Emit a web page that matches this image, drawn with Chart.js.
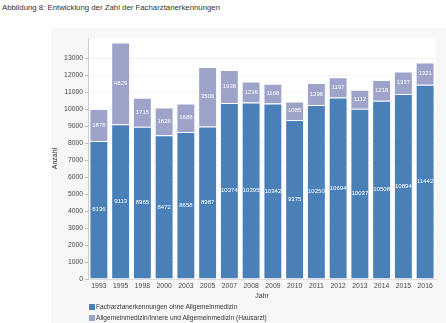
<!DOCTYPE html>
<html lang="de">
<head>
  <meta charset="UTF-8" />
  <title>Facharztanerkennungen</title>
  <script src="https://cdn.jsdelivr.net/npm/chart.js"></script>
  <style>
    body {
      margin: 0;
      width: 446px;
      height: 323px;
      background: #fff;
      font-family: "Liberation Sans", Arial, sans-serif;
      position: relative;
      overflow: hidden;
    }
    #title {
      position: absolute;
      left: 2px;
      top: 3px;
      font-size: 7.8px;
      color: #333;
    }
    #panel {
      position: absolute;
      left: 51px;
      top: 28px;
      width: 395px;
      height: 295px;
      background: #f7f7f7;
    }
    #legend {
      position: absolute;
      left: 38px;
      top: 273px;
      font-size: 6.6px;
      color: #333;
    }
    #legend div {
      height: 11px;
      line-height: 11px;
    }
    #legend span {
      display: inline-block;
      width: 6px;
      height: 6px;
      margin-right: 1px;
      vertical-align: -1px;
    }
  </style>
</head>
<body>
  <div id="title">Abbildung 8: Entwicklung der Zahl der Facharztanerkennungen</div>
  <div id="panel">
    <canvas id="chart" width="395" height="295"></canvas>
    <div id="legend"></div>
  </div>

  <script>
    const years = ["1993", "1995", "1998", "2000", "2003", "2005", "2007", "2008",
                   "2009", "2010", "2011", "2012", "2013", "2014", "2015", "2016"];
    const ohneAllgemein = [8136, 9113, 8965, 8472, 8658, 8987, 10374, 10395,
                           10342, 9375, 10250, 10694, 10037, 10508, 10894, 11442];
    const hausarzt = [1878, 4829, 1715, 1626, 1686, 3506, 1938, 1236,
                      1168, 1085, 1298, 1197, 1112, 1218, 1337, 1321];
    const yTicks = [0, 1000, 2000, 3000, 4000, 5000, 6000, 7000,
                    8000, 9000, 10000, 11000, 12000, 13000];
    const seriesNames = ["Facharztanerkennungen ohne Allgemeinmedizin",
                         "Allgemeinmedizin/Innere und Allgemeinmedizin (Hausarzt)"];
    const colors = ["#4a80b8", "#9ea4c9"];

    // white plot area on the grey panel
    const plotBg = {
      id: 'plotBg',
      beforeDraw(chart) {
        const a = chart.chartArea;
        const c = chart.ctx;
        c.save();
        c.fillStyle = '#fff';
        c.fillRect(a.left, a.top, a.right - a.left, a.bottom - a.top);
        c.restore();
      }
    };

    // value labels in the middle of each segment
    const barLabels = {
      id: 'barLabels',
      afterDatasetsDraw(chart) {
        const c = chart.ctx;
        c.save();
        c.fillStyle = '#fff';
        c.font = '6px "Liberation Sans", Arial, sans-serif';
        c.textAlign = 'center';
        c.textBaseline = 'middle';
        chart.data.datasets.forEach((ds, i) => {
          chart.getDatasetMeta(i).data.forEach((bar, j) => {
            const p = bar.getProps(['x', 'y', 'base'], true);
            c.fillText(ds.data[j], p.x, (p.y + p.base) / 2);
          });
        });
        c.restore();
      }
    };

    new Chart(document.getElementById('chart'), {
      type: 'bar',
      data: {
        labels: years,
        datasets: [
          { label: seriesNames[0], data: ohneAllgemein, backgroundColor: colors[0],
            borderColor: 'rgba(255,255,255,0.5)', borderWidth: 1 },
          { label: seriesNames[1], data: hausarzt, backgroundColor: colors[1],
            borderColor: 'rgba(255,255,255,0.5)', borderWidth: 1 }
        ]
      },
      options: {
        responsive: false,
        animation: false,
        layout: { padding: { left: 0, top: 10, right: 10, bottom: 22 } },
        datasets: { bar: { barPercentage: 0.87, categoryPercentage: 1 } },
        plugins: {
          legend: { display: false },
          tooltip: { enabled: false }
        },
        scales: {
          x: {
            stacked: true,
            grid: { display: false, drawTicks: false, tickLength: 0 },
            border: { color: '#ddd' },
            ticks: { color: '#444', font: { size: 6.8 }, padding: 3, maxRotation: 0 },
            title: { display: true, text: 'Jahr', color: '#333', font: { size: 7 }, padding: 1 },
            afterFit: s => { s.height = 22; }
          },
          y: {
            stacked: true,
            min: 0,
            max: 14200,
            afterBuildTicks: s => { s.ticks = yTicks.map(v => ({ value: v })); },
            grid: { color: '#e8e8e8', tickLength: 3, tickColor: '#bbb' },
            border: { color: '#ccc', dash: [2, 2] },
            ticks: { color: '#444', font: { size: 6.8 }, padding: 2, callback: v => String(v) },
            title: { display: true, text: 'Anzahl', color: '#333', font: { size: 7 }, padding: 0 },
            afterFit: s => { s.width = 37; }
          }
        }
      },
      plugins: [plotBg, barLabels]
    });

    const legend = document.getElementById('legend');
    seriesNames.forEach((name, i) => {
      const row = document.createElement('div');
      row.innerHTML = '<span style="background:' + colors[i] + '"></span>' + name;
      legend.appendChild(row);
    });
  </script>
</body>
</html>
